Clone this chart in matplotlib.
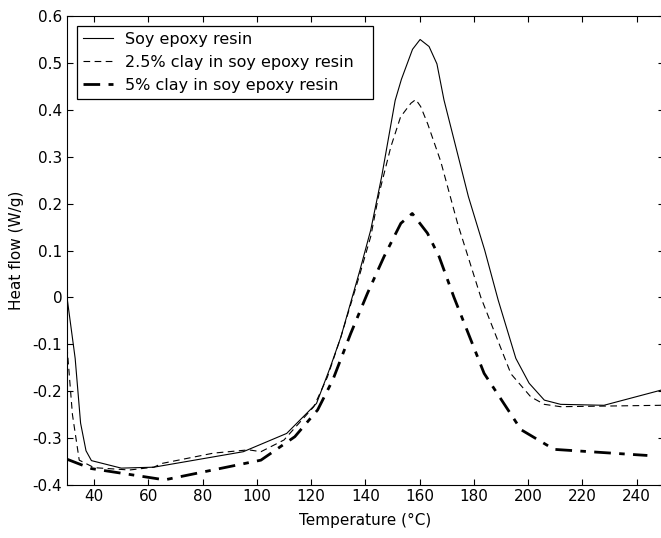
import matplotlib
matplotlib.use("Agg")
import matplotlib.pyplot as plt
from matplotlib.ticker import FuncFormatter

plt.rcParams['font.family'] = ['DejaVu Sans']
plt.rcParams['font.size'] = 11
plt.rcParams['axes.unicode_minus'] = False

# soy epoxy resin
t_neat = [30, 33, 35, 37, 39, 50, 62, 95, 111, 122, 127, 131, 138, 142, 146,
          151, 153.3, 157.4, 160.2, 163.5, 166.4, 169, 178, 184, 189, 195.5,
          200.4, 206, 212, 228, 249.5]
q_neat = [0.0, -0.13, -0.268, -0.327, -0.348, -0.364, -0.362, -0.329, -0.29,
          -0.226, -0.15, -0.084, 0.058, 0.144, 0.257, 0.42, 0.465, 0.529, 0.55,
          0.535, 0.498, 0.421, 0.215, 0.101, -0.006, -0.13, -0.183, -0.219,
          -0.228, -0.23, -0.197]

# 2.5% clay
t_25 = [30, 32, 34.5, 40, 53, 62, 65, 84, 97, 101.5, 110, 121, 126, 131, 138,
        142, 145, 149.4, 153, 156.8, 158.6, 160.4, 163, 167.8, 174, 182.6,
        193.7, 201, 206, 212, 249.5]
q_25 = [-0.105, -0.25, -0.347, -0.363, -0.368, -0.362, -0.354, -0.332, -0.325,
        -0.329, -0.304, -0.233, -0.17, -0.084, 0.05, 0.13, 0.22, 0.321, 0.385,
        0.414, 0.422, 0.407, 0.37, 0.29, 0.158, 0.0, -0.163, -0.212, -0.228,
        -0.233, -0.23]

# 5% clay
t_5 = [30, 34, 39, 66, 101.5, 114, 122.4, 128, 134.6, 140.8, 146.9, 153.1,
       157.3, 162.9, 167.2, 172.7, 183.8, 197.4, 209.6, 244]
q_5 = [-0.345, -0.354, -0.365, -0.389, -0.347, -0.297, -0.24, -0.176, -0.077,
       0.009, 0.087, 0.158, 0.179, 0.137, 0.087, 0.0, -0.162, -0.282, -0.324,
       -0.337]

fig = plt.figure(figsize=(6.61, 5.38), dpi=100)
ax = fig.add_axes([0.1014, 0.0985, 0.9026, 0.8717])

ax.plot(t_neat, q_neat, color='black', lw=0.8, label='Soy epoxy resin')
ax.plot(t_25, q_25, color='black', lw=0.8, dashes=(6, 4),
        label='2.5% clay in soy epoxy resin')
ax.plot(t_5, q_5, color='black', lw=2.0, dashes=(6, 3, 2, 3),
        label='5% clay in soy epoxy resin')

ax.set_xlim(30, 250)
ax.set_ylim(-0.4, 0.6)
ax.set_xticks(range(40, 250, 20))
ax.set_yticks([-0.4, -0.3, -0.2, -0.1, 0, 0.1, 0.2, 0.3, 0.4, 0.5, 0.6])
ax.yaxis.set_major_formatter(FuncFormatter(lambda v, p: '%g' % round(v, 2)))
ax.tick_params(direction='in', top=True, right=True, length=4, width=0.8)
ax.tick_params(axis='x', pad=3)
for s in ax.spines.values():
    s.set_linewidth(0.8)

ax.set_xlabel('Temperature (°C)', labelpad=6)
ax.set_ylabel('Heat flow (W/g)', labelpad=6)

# legend box spans from x=77 to 373 px in the original figure
leg = ax.legend(loc='upper left', bbox_to_anchor=(0.0168, 0.979, 0.496, 0.0),
                mode='expand', borderaxespad=0, fancybox=False,
                edgecolor='black', framealpha=1, fontsize=11.5,
                handlelength=1.9, labelspacing=0.5, borderpad=0.38,
                handletextpad=0.75)
leg.get_frame().set_linewidth(0.9)

fig.savefig('out.png', dpi=100)
